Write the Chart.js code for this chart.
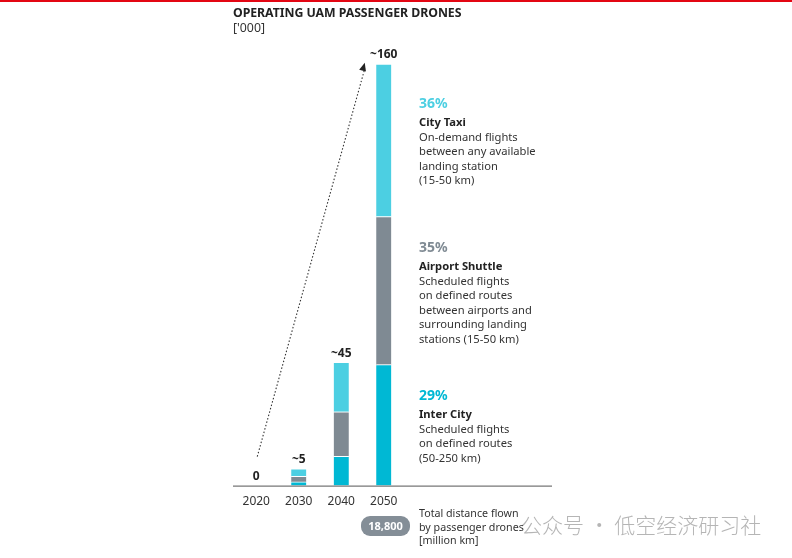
<!DOCTYPE html>
<html>
<head>
<meta charset="utf-8">
<script src="https://cdn.jsdelivr.net/npm/chart.js@4.4.1/dist/chart.umd.min.js"></script>
<style>
  html, body { margin: 0; padding: 0; background: #fff; }
  body { width: 792px; height: 558px; position: relative; overflow: hidden; font-family: "Noto Sans", sans-serif; color: #333; }
  #topline { position: absolute; left: 0; top: 0; width: 792px; height: 2px; background: #e30613; }
  #wrap { position: absolute; left: 0; top: 0; width: 792px; height: 558px; }
  .title { position: absolute; left: 233px; top: 4px; font-size: 12.3px; font-weight: 700; color: #222; letter-spacing: -0.05px; }
  .unit { position: absolute; left: 233px; top: 19px; font-size: 12.3px; color: #333; }
  .note { position: absolute; left: 419px; font-size: 11.2px; line-height: 14.5px; color: #333; }
  .note .pct { font-size: 14px; font-weight: 700; line-height: 18px; margin-bottom: 3px; }
  .note b { color: #222; }
  .pill { position: absolute; left: 361px; top: 516px; width: 49px; height: 20px; border-radius: 9px; background: #848e97; color: #fff; font-size: 11px; font-weight: 700; text-align: center; line-height: 20px; }
  .foot { position: absolute; left: 419px; top: 507px; font-size: 10.7px; line-height: 13.5px; color: #333; }
  .wm { position: absolute; left: 521px; top: 509px; font-family: "Noto Sans CJK SC", sans-serif; font-size: 21px; font-weight: 300; color: rgba(150,150,150,0.7); }
</style>
</head>
<body>
<div id="topline"></div>
<div id="wrap"><canvas id="c" width="792" height="558"></canvas></div>
<div class="title">OPERATING UAM PASSENGER DRONES</div>
<div class="unit">['000]</div>

<div class="note" style="top:94px">
  <div class="pct" style="color:#4ccfe2">36%</div>
  <b>City Taxi</b><br>On-demand flights<br>between any available<br>landing station<br>(15-50 km)
</div>
<div class="note" style="top:238px">
  <div class="pct" style="color:#7f8a93">35%</div>
  <b>Airport Shuttle</b><br>Scheduled flights<br>on defined routes<br>between airports and<br>surrounding landing<br>stations (15-50 km)
</div>
<div class="note" style="top:386px">
  <div class="pct" style="color:#00b8d4">29%</div>
  <b>Inter City</b><br>Scheduled flights<br>on defined routes<br>(50-250 km)
</div>

<div class="pill">18,800</div>
<div class="foot">Total distance flown<br>by passenger drones<br>[million km]</div>
<div class="wm">公众号 · 低空经济研习社</div>

<script>
const years = ["2020", "2030", "2040", "2050"];
const interCity = [0, 1.4, 11.1, 45.9];
const airportShuttle = [0, 2.1, 16.9, 56.2];
const cityTaxi = [0, 2.9, 18.8, 57.9];
const totalLabels = ["0", "~5", "~45", "~160"];

const colTaxi = "#4ccfe2";
const colShuttle = "#7f8a93";
const colInter = "#00b8d4";

// totals on top, baseline, dotted growth arrow
const decor = {
  id: "decor",
  afterDatasetsDraw(chart) {
    const { ctx, chartArea, scales } = chart;
    const x = scales.x, y = scales.y;
    ctx.save();

    // baseline
    ctx.strokeStyle = "#777";
    ctx.lineWidth = 1.2;
    ctx.beginPath();
    ctx.moveTo(chartArea.left - 2, y.getPixelForValue(0) + 0.5);
    ctx.lineTo(552, y.getPixelForValue(0) + 0.5);
    ctx.stroke();

    // totals
    ctx.fillStyle = "#222";
    ctx.font = "bold 12px 'Noto Sans'";
    ctx.textAlign = "center";
    ctx.textBaseline = "bottom";
    years.forEach((yr, i) => {
      const t = interCity[i] + airportShuttle[i] + cityTaxi[i];
      ctx.fillText(totalLabels[i], x.getPixelForValue(i), y.getPixelForValue(t) - 3);
    });

    // dotted arrow
    const x0 = x.getPixelForValue(0) + 1, y0 = y.getPixelForValue(11);
    const x1 = x.getPixelForValue(3) - 19, y1 = y.getPixelForValue(160.5);
    ctx.strokeStyle = "#333";
    ctx.lineWidth = 1.1;
    ctx.setLineDash([1.5, 2]);
    ctx.beginPath();
    ctx.moveTo(x0, y0);
    ctx.lineTo(x1, y1 + 6);
    ctx.stroke();
    ctx.setLineDash([]);
    const ang = Math.atan2(y1 - y0, x1 - x0);
    ctx.fillStyle = "#222";
    ctx.beginPath();
    ctx.moveTo(x1, y1);
    ctx.lineTo(x1 - 9 * Math.cos(ang - 0.4), y1 - 9 * Math.sin(ang - 0.4));
    ctx.lineTo(x1 - 9 * Math.cos(ang + 0.4), y1 - 9 * Math.sin(ang + 0.4));
    ctx.closePath();
    ctx.fill();
    ctx.restore();
  }
};

const seg = (label, data, color) => ({
  label, data,
  backgroundColor: (c) => (c.raw > 0 ? color : "rgba(0,0,0,0)"),
  borderColor: "#ffffff",
  borderWidth: (c) => (c.raw > 0 ? { top: 1 } : 0),
  borderSkipped: false,
  barThickness: 15
});

new Chart(document.getElementById("c"), {
  type: "bar",
  data: {
    labels: years,
    datasets: [
      seg("Inter City", interCity, colInter),
      seg("Airport Shuttle", airportShuttle, colShuttle),
      seg("City Taxi", cityTaxi, colTaxi)
    ]
  },
  options: {
    responsive: false,
    animation: false,
    layout: { padding: { left: 235, right: 387, top: 64, bottom: 40 } },
    plugins: { legend: { display: false }, tooltip: { enabled: false } },
    scales: {
      x: {
        stacked: true,
        grid: { display: false, drawTicks: false },
        border: { display: false },
        ticks: { color: "#333", font: { family: "Noto Sans", size: 12 }, padding: 9 }
      },
      y: { stacked: true, display: false, min: 0, max: 160 }
    }
  },
  plugins: [decor]
});
</script>
</body>
</html>
